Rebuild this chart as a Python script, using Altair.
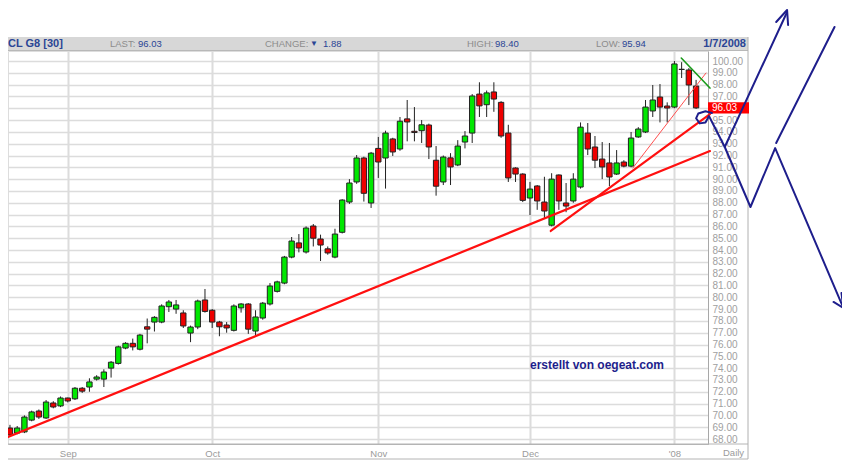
import altair as alt
import pandas as pd

# ---- daily OHLC of CL G8 (late Aug 2007 .. 7 Jan 2008) ----
opens = [68.93, 68.51, 68.6, 69.6, 70.37, 69.78, 71.05, 70.8, 71.47, 71.4,
         72.3, 72.4, 73.07, 73.07, 74.0, 74.4, 75.7, 76.1, 75.6, 77.5,
         77.9, 77.9, 79.2, 79.0, 78.67, 76.97, 77.48, 79.77, 78.9, 77.9,
         77.65, 77.2, 79.1, 79.43, 77.14, 78.24, 79.43, 80.5, 81.2, 83.4,
         84.6, 83.83, 86.03, 84.93, 84.1, 83.4, 85.5, 88.06, 89.76, 91.79,
         87.98, 92.6, 91.79, 93.4, 92.55, 95.1, 94.05, 94.1, 94.58, 91.6,
         89.76, 91.8, 91.2, 93.14, 93.9, 97.2, 96.3, 97.38, 96.5, 93.9,
         90.94, 90.43, 88.4, 89.42, 88.06, 86.1, 90.35, 87.98, 88.15, 89.33,
         93.9, 92.72, 91.7, 91.37, 90.43, 91.45, 91.1, 93.57, 93.99, 95.77,
         96.95, 96.19, 96.1, 99.28, 99.24, 97.88]
highs = [69.2, 69.1, 70.0, 70.4, 70.5, 71.3, 71.2, 71.6, 71.5, 72.4,
         72.4, 73.14, 73.4, 73.9, 74.6, 75.9, 76.2, 76.5, 76.9, 78.2,
         78.4, 79.4, 79.77, 79.77, 78.9, 77.6, 79.8, 80.7, 79.0, 78.0,
         77.9, 79.4, 79.5, 79.5, 78.9, 79.6, 81.2, 81.4, 83.5, 85.1,
         85.35, 86.0, 86.2, 85.3, 84.3, 85.8, 88.3, 90.0, 92.04, 91.9,
         92.3, 93.57, 94.1, 93.5, 95.26, 96.7, 96.1, 95.0, 94.7, 92.8,
         92.0, 92.2, 93.3, 94.07, 97.2, 98.2, 97.5, 98.2, 96.6, 94.6,
         91.0, 90.5, 89.76, 89.5, 90.2, 90.5, 90.4, 89.67, 90.5, 94.8,
         94.75, 93.65, 93.14, 93.06, 92.46, 91.6, 93.99, 94.4, 96.7, 97.97,
         98.05, 96.5, 100.0, 99.9, 99.4, 98.4]
lows = [68.2, 68.4, 68.5, 69.5, 69.7, 69.7, 70.6, 70.7, 71.1, 71.3,
        71.9, 72.0, 72.95, 72.4, 73.2, 74.3, 75.6, 75.5, 75.5, 76.1,
        77.1, 77.8, 78.75, 78.6, 77.4, 76.2, 77.3, 78.7, 77.4, 76.7,
        77.0, 77.1, 78.7, 76.9, 76.7, 78.1, 79.3, 80.4, 81.1, 83.3,
        83.8, 83.7, 84.3, 83.07, 83.6, 83.3, 85.4, 87.9, 89.6, 88.1,
        87.56, 90.1, 89.2, 91.96, 92.4, 93.2, 93.2, 93.06, 91.7, 88.6,
        89.5, 89.5, 91.1, 92.6, 93.06, 95.26, 95.26, 95.7, 93.5, 89.76,
        89.76, 88.06, 86.96, 87.4, 86.7, 86.0, 87.4, 87.2, 88.0, 89.2,
        92.04, 90.94, 90.0, 89.4, 90.35, 91.0, 91.0, 93.5, 93.9, 95.26,
        94.8, 94.8, 96.0, 98.56, 96.27, 95.94]
closes = [68.34, 68.93, 69.86, 70.29, 69.86, 71.13, 70.71, 71.47, 71.22, 72.3,
          72.05, 72.83, 73.25, 73.67, 74.5, 75.8, 76.1, 75.8, 76.8, 77.3,
          78.3, 79.26, 79.6, 79.35, 77.57, 77.48, 79.68, 78.8, 77.9, 77.5,
          77.4, 79.26, 79.43, 77.3, 78.33, 79.5, 80.95, 81.3, 83.4, 84.76,
          84.17, 85.86, 85.0, 84.42, 83.75, 85.35, 88.23, 89.67, 91.79, 88.8,
          92.2, 91.45, 93.9, 92.3, 94.9, 94.84, 93.95, 94.6, 92.72, 89.4,
          91.87, 91.03, 92.8, 93.65, 97.04, 96.2, 97.3, 96.78, 93.65, 90.1,
          90.43, 88.2, 89.16, 88.15, 87.3, 90.0, 88.15, 87.72, 90.0, 94.4,
          92.55, 91.6, 91.03, 90.18, 91.37, 91.1, 93.48, 94.24, 96.1, 96.7,
          96.1, 96.02, 99.75, 99.3, 97.97, 96.03]

month_labels = ["Sep", "Oct", "Nov", "Dec", "'08"]
month_start_idx = [8, 28, 51, 72, 92]
price_ticks = list(range(68, 101))

# header values
symbol = "CL G8 [30]"
last_txt = "96.03"
change_txt = "1.88"
high_txt = "98.40"
low_txt = "95.94"
date_txt = "1/7/2008"
credit = "erstellt von oegeat.com"

# drawn trend lines (bar index, price)
trend_main_i = [-0.27, 96.92]
trend_main_p = [68.17, 92.38]
trend_dec_i = [74.88, 96.92]
trend_dec_p = [85.61, 95.5]
trend_fast_i = [86.24, 96.37]
trend_fast_p = [90.94, 98.98]
trend_top_i = [92.95, 96.92]
trend_top_p = [100.25, 97.71]

# hand-drawn blue scenario lines (bar index, price)
sketch_a_i = [97.19, 96.30, 95.30, 95.00, 95.50, 96.30, 96.78, 98.97, 107.60]
sketch_a_p = [95.60, 95.74, 95.55, 95.15, 94.72, 94.80, 95.34, 92.72, 104.15]
arrow_up_i = [106.09, 107.60, 107.74]
arrow_up_p = [103.30, 104.32, 103.05]
sketch_b_i = [98.97, 102.53, 105.95, 115.40]
sketch_b_p = [92.72, 87.64, 92.63, 79.09]
arrow_dn_i = [114.03, 115.40, 115.13]
arrow_dn_p = [79.60, 79.09, 80.36]
sketch_c_i = [106.09, 114.17]
sketch_c_p = [93.06, 102.88]

FONT = "Liberation Sans, Arial, Helvetica, sans-serif"
GREEN = "#00e800"
RED = "#ee0000"
NAVY = "#1e1e8c"
BLUE_TXT = "#2a4595"
GRAY_TXT = "#8c8c8c"
GRID = "#dcdcdc"

W, H = 700, 393
xs = alt.Scale(domain=[-0.274, 96.65], nice=False, zero=False)
ys = alt.Scale(domain=[67.577, 100.847], nice=False, zero=False)

df = pd.DataFrame({"i": list(range(len(opens))), "open": opens, "high": highs,
                   "low": lows, "close": closes})
df["dir"] = ["up" if c >= o else "down" for o, c in zip(opens, closes)]

label_expr = "".join(f'datum.value == {v} ? "{l}" : ' for v, l in zip(month_start_idx, month_labels)) + '""'

x_axis = alt.Axis(values=month_start_idx, labelExpr=label_expr, grid=True, gridColor=GRID,
                  gridWidth=2, ticks=False, tickSize=0, domain=True, domainColor="#b4b4b4",
                  labelColor="#9a9a9a", labelFont=FONT, labelFontSize=9.5, labelPadding=9,
                  labelBaseline="middle", labelFlush=False, title=None, zindex=0)
y_axis = alt.Axis(orient="right", values=price_ticks, labelExpr="format(datum.value, '.2f')",
                  grid=True, gridColor=GRID, gridWidth=1.6, ticks=False, tickSize=0,
                  domain=True, domainColor="#a8a8a8", labelColor="#a0a0a0", labelFont=FONT,
                  labelFontSize=10, labelPadding=4, labelAlign="left", labelBaseline="middle",
                  labelOverlap=False, labelFlush=False, title=None, zindex=0)

one = pd.DataFrame({"k": [0]})

header_band = alt.Chart(one).mark_rect(color="#d7d7d7").encode(
    x=alt.value(0), x2=alt.value(740), y=alt.value(-14), y2=alt.value(-1))
header_line = alt.Chart(one).mark_rule(color="#b8b8b8", strokeWidth=1).encode(
    x=alt.value(0), x2=alt.value(740), y=alt.value(-0.5))
right_border = alt.Chart(one).mark_rule(color="#b0b0b0", strokeWidth=1).encode(
    x=alt.value(740), y=alt.value(-14), y2=alt.value(408))
bottom_line = alt.Chart(one).mark_rule(color="#b4b4b4", strokeWidth=1).encode(
    x=alt.value(0), x2=alt.value(740), y=alt.value(393))
bottom_border = alt.Chart(one).mark_rule(color="#b4b4b4", strokeWidth=1).encode(
    x=alt.value(0), x2=alt.value(740), y=alt.value(408))


def txt(s, x, y, color, size=9.5, weight="normal", align="left"):
    return alt.Chart(one).mark_text(text=s, align=align, baseline="middle", font=FONT,
                                    fontSize=size, fontWeight=weight, color=color).encode(
        x=alt.value(x), y=alt.value(y))


header = [
    txt(symbol, 0, -7, BLUE_TXT, 11, "bold"),
    txt("LAST:", 102, -7, GRAY_TXT),
    txt(last_txt, 130, -7, BLUE_TXT),
    txt("CHANGE:", 257, -7, GRAY_TXT),
    txt("\u25bc", 302, -7.5, BLUE_TXT, 8),
    txt(change_txt, 315, -7, BLUE_TXT),
    txt("HIGH:", 459, -7, GRAY_TXT),
    txt(high_txt, 487, -7, BLUE_TXT),
    txt("LOW:", 588, -7, GRAY_TXT),
    txt(low_txt, 614, -7, BLUE_TXT),
    txt(date_txt, 738, -7, BLUE_TXT, 11, "bold", "right"),
    txt("Daily", 715, 402, "#9a9a9a", 9.5),
]


def X(field):
    return alt.X(field, scale=xs, axis=x_axis)


def Y(field):
    return alt.Y(field, scale=ys, axis=y_axis)


wicks = alt.Chart(df).mark_rule(color="#222222", strokeWidth=1).encode(
    x=X("i:Q"), y=Y("low:Q"), y2="high:Q")

bodies = alt.Chart(df).transform_calculate(
    xl="datum.i - 0.37", xr="datum.i + 0.37"
).mark_rect(stroke="#222222", strokeWidth=1).encode(
    x=X("xl:Q"), x2="xr:Q", y=Y("open:Q"), y2="close:Q",
    color=alt.Color("dir:N", scale=alt.Scale(domain=["up", "down"], range=[GREEN, RED]), legend=None))


def poly(name, xi, pv):
    return pd.DataFrame({"line": name, "ord": list(range(len(xi))), "i": xi, "p": pv})


def line_layer(frame, color, width, opacity=1.0):
    return alt.Chart(frame).mark_line(color=color, strokeWidth=width, opacity=opacity,
                                      strokeCap="round", strokeJoin="round").encode(
        x=X("i:Q"), y=Y("p:Q"), detail="line:N", order="ord:Q")


red_thick = line_layer(pd.concat([poly("main", trend_main_i, trend_main_p),
                                  poly("dec", trend_dec_i, trend_dec_p)]), "#ff1010", 2.2)
red_thin = line_layer(poly("fast", trend_fast_i, trend_fast_p), "#ff5050", 1.0)
green_line = line_layer(poly("top", trend_top_i, trend_top_p), "#1a9a1a", 1.6)
blue = line_layer(pd.concat([poly("a", sketch_a_i, sketch_a_p),
                             poly("au", arrow_up_i, arrow_up_p),
                             poly("b", sketch_b_i, sketch_b_p),
                             poly("ad", arrow_dn_i, arrow_dn_p),
                             poly("c", sketch_c_i, sketch_c_p)]), NAVY, 2.0)

last_df = pd.DataFrame({"p": [closes[-1]], "label": [last_txt]})
price_box = alt.Chart(last_df).transform_calculate(
    pt="datum.p + 0.47", pb="datum.p - 0.47"
).mark_rect(color="#ff0000").encode(
    x=alt.value(700), x2=alt.value(741), y=Y("pt:Q"), y2="pb:Q")
price_txt = alt.Chart(last_df).mark_text(align="left", baseline="middle", font=FONT,
                                         fontSize=10, color="white").encode(
    x=alt.value(704), y=Y("p:Q"), text="label:N")

credit_txt = txt(credit, 589, 314, NAVY, 12, "bold", "center")

chart = alt.layer(
    header_band, header_line, wicks, bodies, red_thick, red_thin, green_line,
    bottom_line, bottom_border, right_border, price_box, price_txt, credit_txt,
    *header, blue
).properties(
    width=W, height=H,
    autosize=alt.AutoSizeParams(type="none"),
    padding={"left": 0, "top": 43, "right": 134, "bottom": 16},
).configure_view(stroke=None).configure(background="white")

chart.save("out.html", embed_options={"renderer": "svg", "actions": False})
